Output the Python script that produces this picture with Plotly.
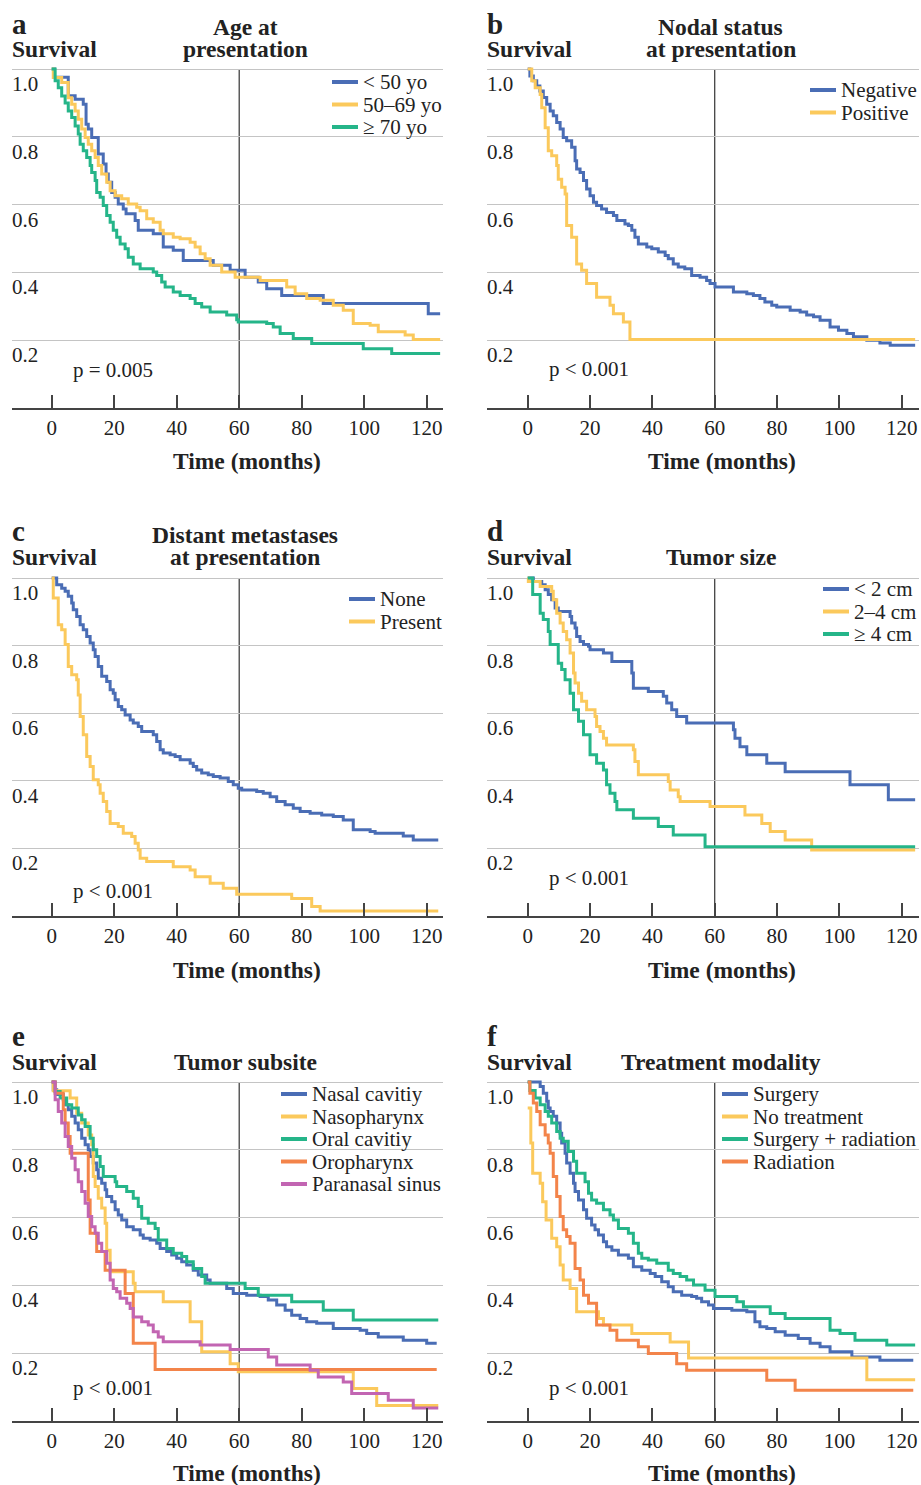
import plotly.graph_objects as go

W, H = 921, 1485

# ---------------- Data: (time in months, survival probability) ----------------
# Panel a - Age at presentation
age_lt50 = [(0, 1.0), (0.9, 0.976), (5.3, 0.921), (7.5, 0.911), (10.1, 0.896), (11.0, 0.837), (11.7, 0.823),
            (12.8, 0.798), (14.9, 0.749), (16.5, 0.72), (17.4, 0.69), (18.1, 0.666), (19.2, 0.636), (20.3, 0.622),
            (21.3, 0.602), (22.9, 0.587), (23.8, 0.573), (26.7, 0.553), (27.7, 0.524), (32.5, 0.514), (35.7, 0.475),
            (38.9, 0.465), (42.1, 0.435), (51.7, 0.421), (57.1, 0.406), (61.9, 0.386), (66.1, 0.372), (68.8, 0.352),
            (73.6, 0.332), (86.9, 0.308), (120.5, 0.278), (124.3, 0.278)]
age_50_69 = [(0, 1.0), (0.5, 0.975), (3.2, 0.96), (5.3, 0.915), (6.4, 0.896), (7.5, 0.876), (8.5, 0.852),
             (9.6, 0.823), (10.7, 0.798), (11.7, 0.778), (12.8, 0.759), (13.9, 0.739), (14.9, 0.715), (16.0, 0.69),
             (17.6, 0.666), (18.7, 0.641), (20.3, 0.626), (22.4, 0.617), (24.5, 0.602), (27.2, 0.592), (28.3, 0.582),
             (30.4, 0.558), (32.5, 0.548), (34.7, 0.524), (35.7, 0.514), (38.9, 0.504), (41.1, 0.499), (44.3, 0.489),
             (45.9, 0.475), (47.5, 0.455), (49.1, 0.44), (50.7, 0.421), (54.4, 0.401), (58.7, 0.386), (66.7, 0.376),
             (75.2, 0.357), (77.9, 0.337), (81.6, 0.323), (85.9, 0.318), (90.1, 0.303), (93.3, 0.288), (96.5, 0.249),
             (101.9, 0.244), (104.5, 0.225), (113.1, 0.215), (115.7, 0.202), (124.3, 0.202)]
age_ge70 = [(0, 1.0), (1.1, 0.965), (2.1, 0.945), (3.2, 0.92), (4.3, 0.9), (5.3, 0.876), (6.4, 0.857), (7.5, 0.832),
            (8.5, 0.808), (9.1, 0.778), (10.1, 0.759), (11.2, 0.739), (12.3, 0.715), (12.8, 0.695), (13.9, 0.671),
            (14.4, 0.636), (15.5, 0.622), (16.5, 0.597), (17.6, 0.568), (18.7, 0.548), (19.7, 0.524), (20.8, 0.504),
            (21.9, 0.484), (23.5, 0.47), (24.5, 0.445), (26.1, 0.425), (28.3, 0.411), (32.5, 0.401), (33.6, 0.391),
            (35.2, 0.372), (36.3, 0.357), (38.9, 0.342), (41.1, 0.332), (44.3, 0.323), (45.9, 0.308), (48.0, 0.298),
            (50.7, 0.283), (56.0, 0.274), (59.2, 0.26), (59.7, 0.254), (68.8, 0.249), (70.9, 0.239), (73.1, 0.22),
            (77.3, 0.205), (83.2, 0.19), (99.7, 0.175), (108.8, 0.161), (124.3, 0.161)]

# Panel b - Nodal status
nodal_negative = [(0, 1.0), (0.7, 0.979), (1.8, 0.965), (2.9, 0.95), (3.9, 0.935), (5.0, 0.916), (6.1, 0.896),
                  (7.2, 0.876), (8.2, 0.862), (9.3, 0.842), (10.4, 0.823), (11.4, 0.798), (12.5, 0.788), (14.1, 0.769),
                  (15.2, 0.729), (15.7, 0.705), (16.8, 0.695), (17.9, 0.671), (18.9, 0.646), (20.0, 0.626),
                  (21.1, 0.607), (22.1, 0.597), (23.7, 0.587), (25.3, 0.577), (27.5, 0.568), (28.6, 0.553),
                  (31.2, 0.543), (32.3, 0.538), (33.4, 0.524), (34.4, 0.504), (35.5, 0.484), (38.2, 0.475),
                  (39.8, 0.47), (41.9, 0.46), (44.1, 0.45), (45.1, 0.44), (46.7, 0.425), (48.3, 0.416), (50.4, 0.411),
                  (52.6, 0.391), (55.3, 0.386), (57.4, 0.376), (58.5, 0.367), (60.1, 0.357), (66.0, 0.342),
                  (70.3, 0.337), (72.4, 0.332), (74.5, 0.323), (76.1, 0.313), (78.3, 0.303), (79.9, 0.298),
                  (84.2, 0.288), (87.4, 0.283), (89.5, 0.274), (91.7, 0.269), (93.8, 0.259), (97.0, 0.239),
                  (99.7, 0.229), (102.4, 0.22), (104.5, 0.21), (108.8, 0.2), (113.0, 0.192), (116.3, 0.185),
                  (124.3, 0.185)]
nodal_positive = [(0, 1.0), (1.3, 0.965), (2.4, 0.945), (4.0, 0.925), (4.5, 0.886), (5.6, 0.827), (6.6, 0.759),
                  (7.7, 0.744), (9.3, 0.715), (9.8, 0.675), (10.9, 0.651), (12.0, 0.631), (12.5, 0.538),
                  (14.1, 0.504), (15.7, 0.425), (17.3, 0.406), (18.9, 0.367), (22.1, 0.327), (26.4, 0.303),
                  (27.5, 0.278), (30.7, 0.254), (32.8, 0.202), (124.3, 0.202)]

# Panel c - Distant metastases
meta_none = [(0, 1.0), (1.6, 0.98), (3.2, 0.97), (4.3, 0.961), (5.3, 0.946), (6.4, 0.926), (6.9, 0.906), (8.0, 0.886),
             (9.1, 0.862), (10.1, 0.847), (11.2, 0.827), (12.3, 0.808), (13.3, 0.788), (13.9, 0.768), (14.9, 0.738),
             (16.0, 0.709), (17.6, 0.694), (18.7, 0.669), (19.7, 0.659), (20.3, 0.64), (21.3, 0.62), (22.4, 0.61),
             (23.5, 0.595), (25.1, 0.58), (26.1, 0.571), (27.7, 0.561), (28.8, 0.546), (32.5, 0.536), (33.6, 0.516),
             (34.7, 0.492), (35.7, 0.482), (37.9, 0.477), (39.5, 0.472), (41.1, 0.462), (44.3, 0.452), (45.3, 0.442),
             (46.4, 0.432), (48.0, 0.423), (50.1, 0.418), (51.7, 0.413), (53.9, 0.408), (56.5, 0.398), (58.1, 0.388),
             (59.7, 0.378), (60.8, 0.373), (65.6, 0.368), (67.7, 0.363), (69.9, 0.353), (72.0, 0.339), (74.7, 0.329),
             (77.3, 0.319), (79.5, 0.309), (82.7, 0.304), (86.4, 0.299), (90.1, 0.294), (93.3, 0.284), (96.5, 0.255),
             (101.9, 0.25), (103.5, 0.245), (112.5, 0.237), (115.7, 0.225), (123.7, 0.225)]
meta_present = [(0, 1.0), (0.5, 0.941), (2.1, 0.862), (3.2, 0.847), (4.3, 0.803), (5.3, 0.738), (6.4, 0.714),
                (8.0, 0.699), (8.5, 0.654), (9.1, 0.59), (10.1, 0.536), (11.2, 0.472), (12.3, 0.442), (13.3, 0.403),
                (14.9, 0.388), (15.5, 0.363), (16.5, 0.339), (17.6, 0.309), (18.7, 0.274), (21.3, 0.265),
                (22.9, 0.245), (25.6, 0.235), (26.7, 0.215), (27.7, 0.195), (28.3, 0.171), (30.4, 0.161),
                (38.9, 0.146), (44.3, 0.136), (45.9, 0.116), (50.7, 0.097), (54.9, 0.082), (59.2, 0.064),
                (76.8, 0.052), (83.2, 0.028), (85.9, 0.015), (123.7, 0.015)]

# Panel d - Tumor size
size_lt2 = [(0, 1.0), (1.8, 0.99), (4.5, 0.98), (5.6, 0.965), (6.6, 0.951), (7.7, 0.936), (8.8, 0.911), (9.8, 0.901),
            (13.6, 0.886), (14.1, 0.867), (15.2, 0.852), (15.7, 0.827), (16.8, 0.812), (17.9, 0.803), (19.5, 0.798),
            (20.0, 0.788), (24.3, 0.778), (27.0, 0.753), (33.4, 0.719), (33.9, 0.674), (38.7, 0.664), (43.5, 0.65),
            (44.6, 0.63), (46.2, 0.61), (47.8, 0.59), (51.0, 0.571), (66.0, 0.551), (66.5, 0.526), (68.1, 0.501),
            (70.3, 0.477), (76.7, 0.452), (82.6, 0.427), (103.4, 0.388), (115.7, 0.344), (124.3, 0.344)]
size_2_4 = [(0, 1.0), (0.2, 0.99), (4.0, 0.975), (7.7, 0.961), (8.2, 0.936), (9.3, 0.896), (10.4, 0.867),
            (11.4, 0.842), (12.5, 0.817), (13.6, 0.778), (14.7, 0.719), (15.2, 0.689), (16.3, 0.659), (17.3, 0.635),
            (18.9, 0.61), (21.6, 0.59), (22.1, 0.561), (23.2, 0.546), (24.3, 0.526), (25.3, 0.506), (33.9, 0.492),
            (34.4, 0.457), (35.5, 0.418), (45.1, 0.398), (45.7, 0.373), (48.3, 0.353), (48.9, 0.339), (58.5, 0.324),
            (69.7, 0.299), (75.1, 0.274), (77.8, 0.25), (82.6, 0.225), (91.1, 0.195), (124.3, 0.195)]
size_ge4 = [(0, 1.0), (1.6, 0.951), (4.0, 0.896), (5.0, 0.877), (6.6, 0.842), (7.2, 0.803), (9.8, 0.748),
            (10.9, 0.729), (12.0, 0.699), (13.6, 0.659), (14.7, 0.61), (16.3, 0.576), (17.9, 0.536), (20.0, 0.477),
            (22.1, 0.452), (24.3, 0.432), (25.3, 0.388), (26.4, 0.363), (28.0, 0.339), (28.6, 0.314), (33.9, 0.289),
            (41.9, 0.265), (46.7, 0.24), (56.9, 0.205), (124.3, 0.205)]

# Panel e - Tumor subsite
site_nasal = [(0, 1.0), (0.5, 0.977), (1.6, 0.963), (3.7, 0.948), (4.3, 0.933), (5.3, 0.918), (6.4, 0.899),
              (7.5, 0.879), (8.5, 0.859), (9.6, 0.834), (10.7, 0.815), (11.7, 0.8), (12.3, 0.78), (13.3, 0.761),
              (14.4, 0.741), (14.9, 0.716), (16.0, 0.701), (17.1, 0.682), (17.6, 0.662), (19.2, 0.647), (20.3, 0.623),
              (21.3, 0.608), (22.4, 0.593), (24.0, 0.573), (26.1, 0.564), (28.3, 0.549), (29.3, 0.539), (31.5, 0.534),
              (33.6, 0.524), (34.7, 0.509), (36.8, 0.5), (38.4, 0.49), (40.0, 0.48), (41.6, 0.47), (43.2, 0.46),
              (45.3, 0.445), (46.9, 0.431), (49.6, 0.416), (50.7, 0.406), (56.0, 0.391), (58.1, 0.376), (62.4, 0.371),
              (66.7, 0.367), (69.3, 0.357), (72.0, 0.342), (74.7, 0.327), (76.8, 0.312), (79.5, 0.302), (81.6, 0.293),
              (84.8, 0.288), (90.1, 0.273), (98.7, 0.268), (100.8, 0.258), (104.5, 0.248), (112.5, 0.238),
              (120.0, 0.229), (123.2, 0.229)]
site_nasopharynx = [(0, 1.0), (0.5, 0.974), (5.9, 0.953), (8.0, 0.908), (9.6, 0.879), (11.7, 0.844), (12.8, 0.815),
                    (13.3, 0.721), (13.9, 0.692), (14.9, 0.657), (16.0, 0.628), (17.1, 0.583), (17.6, 0.504),
                    (18.7, 0.44), (26.1, 0.406), (26.7, 0.381), (35.7, 0.352), (44.3, 0.293), (48.0, 0.204),
                    (57.1, 0.169), (59.7, 0.145), (96.5, 0.096), (104.0, 0.046), (123.7, 0.046)]
site_oral = [(0, 1.0), (1.1, 0.972), (2.7, 0.953), (4.8, 0.933), (6.4, 0.923), (8.5, 0.903), (9.6, 0.889),
             (10.7, 0.869), (12.3, 0.834), (13.3, 0.8), (14.4, 0.78), (15.5, 0.751), (16.5, 0.721), (20.3, 0.706),
             (20.8, 0.692), (24.0, 0.677), (26.1, 0.657), (27.7, 0.633), (28.8, 0.598), (30.9, 0.583), (33.1, 0.568),
             (34.1, 0.534), (36.8, 0.509), (38.9, 0.495), (41.6, 0.485), (43.2, 0.47), (45.3, 0.45), (48.0, 0.426),
             (49.1, 0.406), (61.9, 0.391), (66.1, 0.371), (76.8, 0.352), (86.9, 0.327), (96.5, 0.298), (123.7, 0.298)]
site_oropharynx = [(0, 1.0), (1.1, 0.967), (3.7, 0.918), (4.3, 0.879), (5.3, 0.839), (5.9, 0.79), (11.7, 0.652),
                   (12.3, 0.554), (14.4, 0.5), (17.1, 0.445), (23.5, 0.376), (26.1, 0.229), (33.1, 0.152),
                   (123.2, 0.152)]
site_paranasal = [(0, 1.0), (1.1, 0.948), (2.1, 0.913), (3.2, 0.879), (4.3, 0.839), (5.3, 0.81), (6.4, 0.775),
                  (7.5, 0.741), (8.5, 0.706), (9.6, 0.677), (10.7, 0.642), (11.7, 0.603), (12.8, 0.573), (13.9, 0.554),
                  (14.9, 0.524), (16.0, 0.5), (17.6, 0.465), (18.7, 0.416), (19.7, 0.391), (20.8, 0.381),
                  (21.9, 0.362), (24.0, 0.347), (25.1, 0.332), (26.1, 0.307), (28.8, 0.293), (30.9, 0.283),
                  (32.5, 0.263), (34.1, 0.248), (35.7, 0.234), (47.5, 0.224), (57.1, 0.211), (69.3, 0.189),
                  (72.0, 0.165), (82.7, 0.15), (85.3, 0.13), (93.3, 0.115), (96.0, 0.081), (107.7, 0.061),
                  (115.7, 0.038), (123.7, 0.038)]

# Panel f - Treatment modality
tx_surgery = [(0, 1.0), (4.0, 0.987), (5.0, 0.967), (6.1, 0.943), (6.6, 0.923), (7.2, 0.913), (8.2, 0.899),
              (9.3, 0.879), (10.4, 0.849), (10.9, 0.82), (12.0, 0.79), (12.5, 0.761), (13.6, 0.731), (14.7, 0.701),
              (15.2, 0.677), (16.3, 0.652), (17.9, 0.623), (18.9, 0.598), (20.5, 0.578), (21.6, 0.564), (22.7, 0.549),
              (24.3, 0.529), (25.3, 0.514), (27.0, 0.504), (29.1, 0.49), (32.3, 0.48), (33.9, 0.455), (36.6, 0.445),
              (39.3, 0.435), (40.9, 0.426), (43.0, 0.411), (45.1, 0.396), (46.7, 0.381), (49.4, 0.371), (52.6, 0.367),
              (54.2, 0.362), (55.8, 0.352), (58.0, 0.342), (59.6, 0.332), (65.5, 0.327), (70.3, 0.322), (72.9, 0.293),
              (74.5, 0.278), (76.7, 0.273), (79.4, 0.263), (82.6, 0.253), (86.8, 0.243), (90.6, 0.229), (93.8, 0.219),
              (97.0, 0.204), (104.0, 0.189), (113.0, 0.179), (123.7, 0.179)]
tx_none = [(0, 0.923), (1.0, 0.82), (1.6, 0.731), (4.0, 0.701), (4.8, 0.647), (5.9, 0.593), (7.7, 0.539),
           (9.3, 0.514), (10.4, 0.46), (11.4, 0.416), (13.6, 0.391), (15.7, 0.322), (22.7, 0.302), (24.3, 0.283),
           (33.4, 0.258), (45.7, 0.233), (51.6, 0.186), (108.8, 0.122), (124.3, 0.122)]
tx_surg_rad = [(0, 1.0), (0.7, 0.975), (2.4, 0.953), (4.0, 0.933), (5.6, 0.913), (6.6, 0.899), (7.7, 0.879),
               (9.3, 0.854), (10.4, 0.834), (11.4, 0.825), (13.0, 0.795), (14.7, 0.766), (15.7, 0.731), (18.4, 0.706),
               (19.5, 0.672), (20.5, 0.652), (22.1, 0.642), (24.3, 0.623), (26.4, 0.608), (27.5, 0.593), (29.1, 0.568),
               (32.3, 0.554), (33.9, 0.524), (35.5, 0.495), (36.6, 0.48), (38.7, 0.475), (41.4, 0.465), (45.1, 0.445),
               (46.7, 0.435), (48.9, 0.426), (51.0, 0.416), (53.2, 0.401), (56.9, 0.386), (60.1, 0.367), (67.1, 0.352),
               (69.2, 0.337), (77.8, 0.317), (82.6, 0.302), (97.0, 0.268), (100.2, 0.258), (105.0, 0.238),
               (115.2, 0.224), (124.3, 0.224)]
tx_radiation = [(0, 1.0), (0.7, 0.967), (1.8, 0.938), (2.9, 0.913), (4.0, 0.874), (5.6, 0.844), (6.6, 0.82),
                (7.2, 0.79), (8.2, 0.721), (9.3, 0.662), (10.4, 0.603), (11.4, 0.564), (12.5, 0.544), (13.6, 0.524),
                (15.2, 0.45), (16.8, 0.416), (17.9, 0.371), (19.5, 0.347), (22.1, 0.283), (26.4, 0.268),
                (28.6, 0.238), (35.5, 0.219), (38.7, 0.199), (47.8, 0.169), (51.0, 0.15), (76.7, 0.12), (85.8, 0.091),
                (123.7, 0.091)]

# ---------------- Labels ----------------
BLUE, YELLOW, GREEN, ORANGE, MAGENTA = "#4a6db5", "#fbc95c", "#25b589", "#f3844a", "#c265b2"

panel_letters = ["a", "b", "c", "d", "e", "f"]
panel_titles = [["Age at", "presentation"], ["Nodal status", "at presentation"],
                ["Distant metastases", "at presentation"], ["Tumor size"], ["Tumor subsite"], ["Treatment modality"]]
panel_series = [
    [("< 50 yo", age_lt50, BLUE), ("50\u201369 yo", age_50_69, YELLOW), ("\u2265 70 yo", age_ge70, GREEN)],
    [("Negative", nodal_negative, BLUE), ("Positive", nodal_positive, YELLOW)],
    [("None", meta_none, BLUE), ("Present", meta_present, YELLOW)],
    [("< 2 cm", size_lt2, BLUE), ("2\u20134 cm", size_2_4, YELLOW), ("\u2265 4 cm", size_ge4, GREEN)],
    [("Nasal cavitiy", site_nasal, BLUE), ("Nasopharynx", site_nasopharynx, YELLOW), ("Oral cavitiy", site_oral, GREEN),
     ("Oropharynx", site_oropharynx, ORANGE), ("Paranasal sinus", site_paranasal, MAGENTA)],
    [("Surgery", tx_surgery, BLUE), ("No treatment", tx_none, YELLOW), ("Surgery + radiation", tx_surg_rad, GREEN),
     ("Radiation", tx_radiation, ORANGE)],
]
p_values = ["p = 0.005", "p < 0.001", "p < 0.001", "p < 0.001", "p < 0.001", "p < 0.001"]
p_value_y = [0.112, 0.115, 0.075, 0.113, 0.098, 0.098]
x_ticks = [0, 20, 40, 60, 80, 100, 120]
y_ticks = [0.2, 0.4, 0.6, 0.8, 1.0]
y_ticklabels = ["0.2", "0.4", "0.6", "0.8", "1.0"]
x_title = "Time (months)"
y_title = "Survival"
landmark_month = 60

# ---------------- Geometry (pixels) ----------------
FONT = "Liberation Serif"
INK = "#222222"
TXT = 21          # regular text size
BOLD = 23.5       # bold header size
col_left, col_right = [12, 487], [443, 919]
col_zero, col_ppm = [51.7, 527.7], [3.125, 3.117]
row_top, row_bottom = [69, 578, 1082], [408, 916, 1421]
row_letter_y, row_header_y, row_xtitle_y = [24, 531, 1036], [49, 557, 1062], [461, 970, 1473]
legend_pos = [(332, 82), (810, 90), (349, 599), (823, 589), (281, 1094), (722, 1094)]
LEG_GAP, LEG_LEN = 22.5, 26
EXT = 0.012


def px(x):
    return x / W


def py(y):
    return 1 - y / H


fig = go.Figure()
annotations, shapes = [], []
layout = {}

for i in range(6):
    r, c = divmod(i, 2)
    n = i + 1
    xa, ya = f"xaxis{n}" if n > 1 else "xaxis", f"yaxis{n}" if n > 1 else "yaxis"
    xr, yr = f"x{n}" if n > 1 else "x", f"y{n}" if n > 1 else "y"
    top, bot = row_top[r], row_bottom[r]
    unit = bot - top
    x_range = [(col_left[c] - col_zero[c]) / col_ppm[c], (col_right[c] - col_zero[c]) / col_ppm[c]]
    layout[xa] = dict(domain=[px(col_left[c]), px(col_right[c])], range=x_range, anchor=yr,
                      tickvals=x_ticks, ticks="inside", ticklen=13, tickwidth=1.5, tickcolor="#444",
                      showline=True, linecolor="#444", linewidth=1.5, showgrid=False, zeroline=False,
                      tickfont=dict(family=FONT, size=TXT, color=INK), fixedrange=True)
    layout[ya] = dict(domain=[py(bot), py(top - EXT * unit)], range=[0, 1 + EXT], anchor=xr,
                      tickvals=y_ticks, showticklabels=False, ticks="",
                      showgrid=True, gridcolor="#c4c4c4", gridwidth=1,
                      zeroline=False, showline=False, fixedrange=True)
    # y tick labels sit just below their gridlines
    for v, t in zip(y_ticks, y_ticklabels):
        annotations.append(dict(text=t, xref="paper", yref=yr, x=px(col_left[c]), y=v, yshift=-15, xshift=-2,
                                xanchor="left", yanchor="middle", showarrow=False,
                                font=dict(family=FONT, size=TXT, color=INK)))

    shapes.append(dict(type="line", xref=xr, yref=yr, x0=landmark_month, x1=landmark_month, y0=0, y1=1.0,
                       line=dict(color="#333", width=1.2), layer="below"))

    for k, (name, pts, color) in enumerate(panel_series[i]):
        fig.add_trace(go.Scatter(x=[p[0] for p in pts], y=[p[1] for p in pts], mode="lines",
                                 line=dict(color=color, width=3, shape="hv"), name=name,
                                 xaxis=xr, yaxis=yr, showlegend=False, hoverinfo="x+y+name"))
        lx, ly = legend_pos[i]
        yy = ly + k * LEG_GAP
        shapes.append(dict(type="line", xref="paper", yref="paper", x0=px(lx), x1=px(lx + LEG_LEN),
                           y0=py(yy), y1=py(yy), line=dict(color=color, width=4)))
        annotations.append(dict(text=name, xref="paper", yref="paper", x=px(lx + LEG_LEN + 3), y=py(yy),
                                xanchor="left", yanchor="middle", showarrow=False,
                                font=dict(family=FONT, size=TXT, color=INK)))

    # letter, y title, panel title
    annotations.append(dict(text=f"<b>{panel_letters[i]}</b>", xref="paper", yref="paper", x=px(col_left[c]),
                            y=py(row_letter_y[r]), xanchor="left", yanchor="middle", showarrow=False, xshift=-2,
                            font=dict(family=FONT, size=29, color=INK)))
    annotations.append(dict(text=f"<b>{y_title}</b>", xref="paper", yref="paper", x=px(col_left[c]),
                            y=py(row_header_y[r]), xanchor="left", yanchor="middle", showarrow=False, xshift=-2,
                            font=dict(family=FONT, size=BOLD, color=INK)))
    lines = panel_titles[i]
    for j, line in enumerate(lines):
        yy = row_header_y[r] - (len(lines) - 1 - j) * 22.5
        annotations.append(dict(text=f"<b>{line}</b>", xref=xr, yref="paper", x=62, y=py(yy),
                                xanchor="center", yanchor="middle", showarrow=False,
                                font=dict(family=FONT, size=BOLD, color=INK)))
    annotations.append(dict(text=f"<b>{x_title}</b>", xref=xr, yref="paper", x=62.4, y=py(row_xtitle_y[r]),
                            xanchor="center", yanchor="middle", showarrow=False,
                            font=dict(family=FONT, size=BOLD, color=INK)))
    annotations.append(dict(text=p_values[i], xref=xr, yref=yr, x=6.9, y=p_value_y[i], xshift=-2,
                            xanchor="left", yanchor="middle", showarrow=False,
                            font=dict(family=FONT, size=TXT, color=INK)))

fig.update_layout(width=W, height=H, margin=dict(l=0, r=0, t=0, b=0), paper_bgcolor="white",
                  plot_bgcolor="white", showlegend=False, annotations=annotations, shapes=shapes, **layout)
fig.write_html("out.html", config={"displayModeBar": False},
               post_script="document.body.style.margin='0';document.body.style.overflow='hidden';")
